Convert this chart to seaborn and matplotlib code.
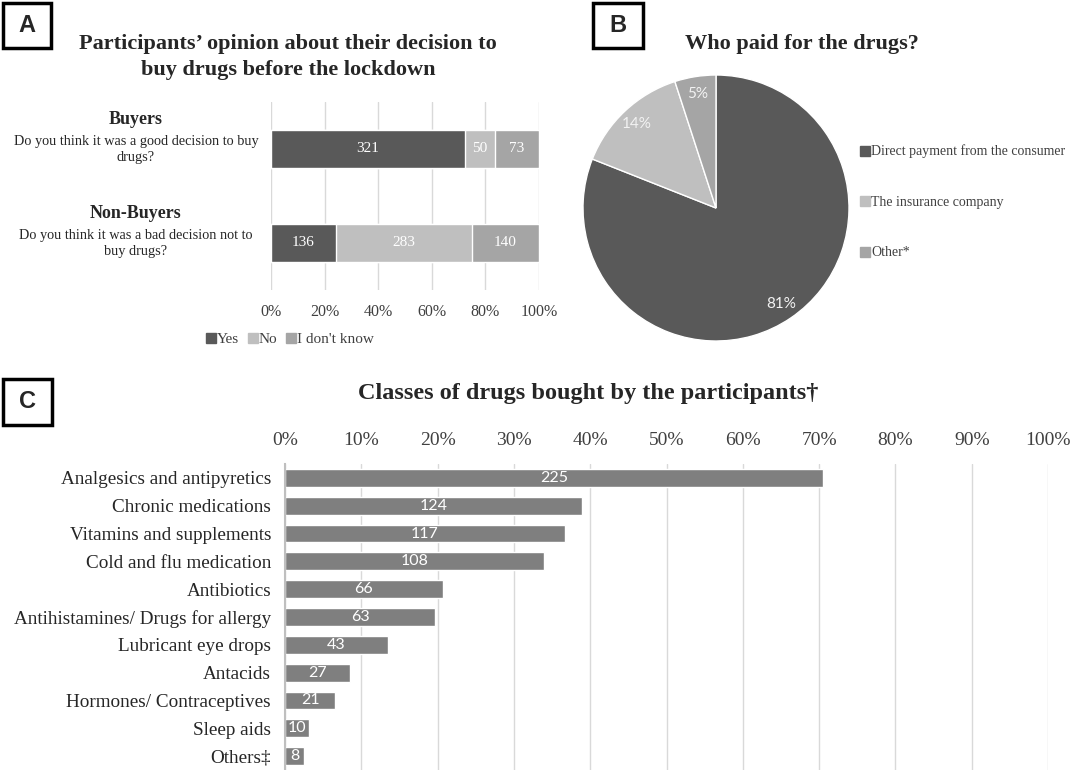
import pandas as pd
import matplotlib.pyplot as plt
import seaborn as sns
from matplotlib.patches import Rectangle
from matplotlib.lines import Line2D
from matplotlib.transforms import blended_transform_factory

sns.set_style("white")
plt.rcParams['font.family'] = ['Liberation Serif', 'DejaVu Serif']

# --------------------------
# Data
# --------------------------
groups = ['Buyers', 'Non-Buyers']
questions = ['Do you think it was a good decision to buy\ndrugs?',
             'Do you think it was a bad decision not to\nbuy drugs?']
yes_n = [321, 136]
no_n = [50, 283]
dk_n = [73, 140]
answer_labels = ['Yes', 'No', "I don't know"]

payers = ['Direct payment from the consumer', 'The insurance company', 'Other*']
payer_pct = [81, 14, 5]

drug_classes = ['Analgesics and antipyretics', 'Chronic medications', 'Vitamins and supplements',
                'Cold and flu medication', 'Antibiotics', 'Antihistamines/ Drugs for allergy',
                'Lubricant eye drops', 'Antacids', 'Hormones/ Contraceptives', 'Sleep aids', 'Others‡']
drug_counts = [225, 124, 117, 108, 66, 63, 43, 27, 21, 10, 8]
drug_pct = [70.5, 38.9, 36.7, 33.9, 20.7, 19.7, 13.5, 8.5, 6.6, 3.1, 2.5]

pct_ticks = [0, 20, 40, 60, 80, 100]
pct_ticks_c = [0, 10, 20, 30, 40, 50, 60, 70, 80, 90, 100]

c_dark = '#595959'
c_light = '#bfbfbf'
c_mid = '#a5a5a5'
c_bar = '#7f7f7f'
c_grid = '#d9d9d9'

W, H = 1072, 770
fig = plt.figure(figsize=(W / 100, H / 100), dpi=100)


def px_rect(x0, y0, x1, y1):
    return [x0 / W, 1 - y1 / H, (x1 - x0) / W, (y1 - y0) / H]


def panel_box(x0, y0, x1, y1, letter):
    fig.patches.append(Rectangle((x0 / W, 1 - y1 / H), (x1 - x0) / W, (y1 - y0) / H,
                                 transform=fig.transFigure, fill=False, lw=2.5, ec='black'))
    fig.text((x0 + x1) / 2 / W, 1 - (y0 + y1) / 2 / H, letter, ha='center', va='center',
             fontsize=17, fontweight='bold', family='Liberation Sans')


# --------------------------
# Panel A: stacked 100% bars
# --------------------------
df_a = pd.DataFrame({'group': groups, 'yes': yes_n, 'no': no_n, 'dk': dk_n})
df_a['total'] = df_a[['yes', 'no', 'dk']].sum(axis=1)
df_a['yes_p'] = df_a['yes'] / df_a['total'] * 100
df_a['no_p'] = df_a['no'] / df_a['total'] * 100
df_a['cum_yes'] = df_a['yes_p']
df_a['cum_no'] = df_a['yes_p'] + df_a['no_p']
df_a['cum_all'] = 100.0

axA = fig.add_axes(px_rect(271, 102, 539, 290))
sns.barplot(data=df_a, x='cum_all', y='group', color=c_mid, saturation=1, width=0.4, orient='h', ax=axA)
sns.barplot(data=df_a, x='cum_no', y='group', color=c_light, saturation=1, width=0.4, orient='h', ax=axA)
sns.barplot(data=df_a, x='cum_yes', y='group', color=c_dark, saturation=1, width=0.4, orient='h', ax=axA)

for i, row in df_a.iterrows():
    segs = [(0, row['cum_yes'], row['yes']), (row['cum_yes'], row['cum_no'], row['no']),
            (row['cum_no'], 100, row['dk'])]
    for a, b, n in segs:
        axA.text((a + b) / 2, i, str(n), ha='center', va='center', color='white', fontsize=11)

axA.set_xlim(0, 100)
axA.set_xticks(pct_ticks)
axA.set_xticklabels([f'{t}%' for t in pct_ticks], fontsize=11.5, color='#404040')
axA.set_yticks([])
axA.set_xlabel('')
axA.set_ylabel('')
axA.set_axisbelow(True)
axA.xaxis.grid(True, color=c_grid, lw=1)
axA.tick_params(axis='x', length=0, pad=10)
sns.despine(ax=axA, left=True, bottom=True)

trA = blended_transform_factory(fig.transFigure, axA.transData)
for i, (g, q) in enumerate(zip(groups, questions)):
    axA.text(136 / W, i - 0.31, g, transform=trA, ha='center', va='center',
             fontsize=13, fontweight='bold')
    axA.text(136 / W, i, q, transform=trA, ha='center', va='center', fontsize=10.3,
             linespacing=1.3)

fig.text(288 / W, 1 - 57 / H, "Participants’ opinion about their decision to\nbuy drugs before the lockdown",
         ha='center', va='center', fontsize=16, fontweight='bold', linespacing=1.45)

handlesA = [Line2D([], [], marker='s', ls='', color=c, markersize=7) for c in (c_dark, c_light, c_mid)]
fig.legend(handlesA, answer_labels, loc='center', bbox_to_anchor=(290 / W, 1 - 339 / H), ncol=3,
           frameon=False, fontsize=11, handlelength=0.6, handletextpad=0.1, columnspacing=0.6,
           labelcolor='#404040')

panel_box(3, 3, 51, 48, 'A')

# --------------------------
# Panel B: pie
# --------------------------
axB = fig.add_axes(px_rect(583, 75, 849, 341))
axB.pie(payer_pct, colors=[c_dark, c_light, c_mid], startangle=90, counterclock=False,
        autopct='%d%%', pctdistance=0.87,
        textprops={'color': '#f2f2f2', 'fontsize': 11, 'family': 'Lato'})
axB.set_xlim(-1, 1)
axB.set_ylim(-1, 1)
fig.text(802 / W, 1 - 44 / H, 'Who paid for the drugs?', ha='center', va='center',
         fontsize=16, fontweight='bold')

handlesB = [Line2D([], [], marker='s', ls='', color=c, markersize=6.5) for c in (c_dark, c_light, c_mid)]
fig.legend(handlesB, payers, loc='center left', bbox_to_anchor=(848 / W, 1 - 202 / H),
           frameon=False, fontsize=10, handlelength=0.6, handletextpad=0.15, labelspacing=2.7,
           labelcolor='#404040')

panel_box(593, 3, 643, 48, 'B')

# --------------------------
# Panel C: horizontal bars
# --------------------------
axC = fig.add_axes(px_rect(285, 464, 1048, 770))
sns.barplot(x=drug_pct, y=drug_classes, color=c_bar, saturation=1, width=0.64, orient='h', ax=axC)
axC.bar_label(axC.containers[0], labels=[str(n) for n in drug_counts], label_type='center',
              color='white', fontsize=11.5, family='Lato')
axC.set_xlim(0, 100)
axC.set_xticks(pct_ticks_c)
axC.set_xticklabels([f'{t}%' for t in pct_ticks_c], fontsize=14, color='#404040')
axC.xaxis.tick_top()
axC.tick_params(axis='x', length=0, pad=11)
axC.tick_params(axis='y', length=0, pad=10, labelsize=13.8)
axC.set_axisbelow(True)
axC.xaxis.grid(True, color=c_grid, lw=1)
sns.despine(ax=axC, left=False, bottom=True, top=True, right=True)
axC.spines['left'].set_color('#bfbfbf')
axC.spines['left'].set_linewidth(1.5)
fig.text(588 / W, 1 - 393 / H, 'Classes of drugs bought by the participants†', ha='center',
         va='center', fontsize=17.5, fontweight='bold')

panel_box(3, 379, 52, 425, 'C')

fig.savefig('out.png', dpi=100)
